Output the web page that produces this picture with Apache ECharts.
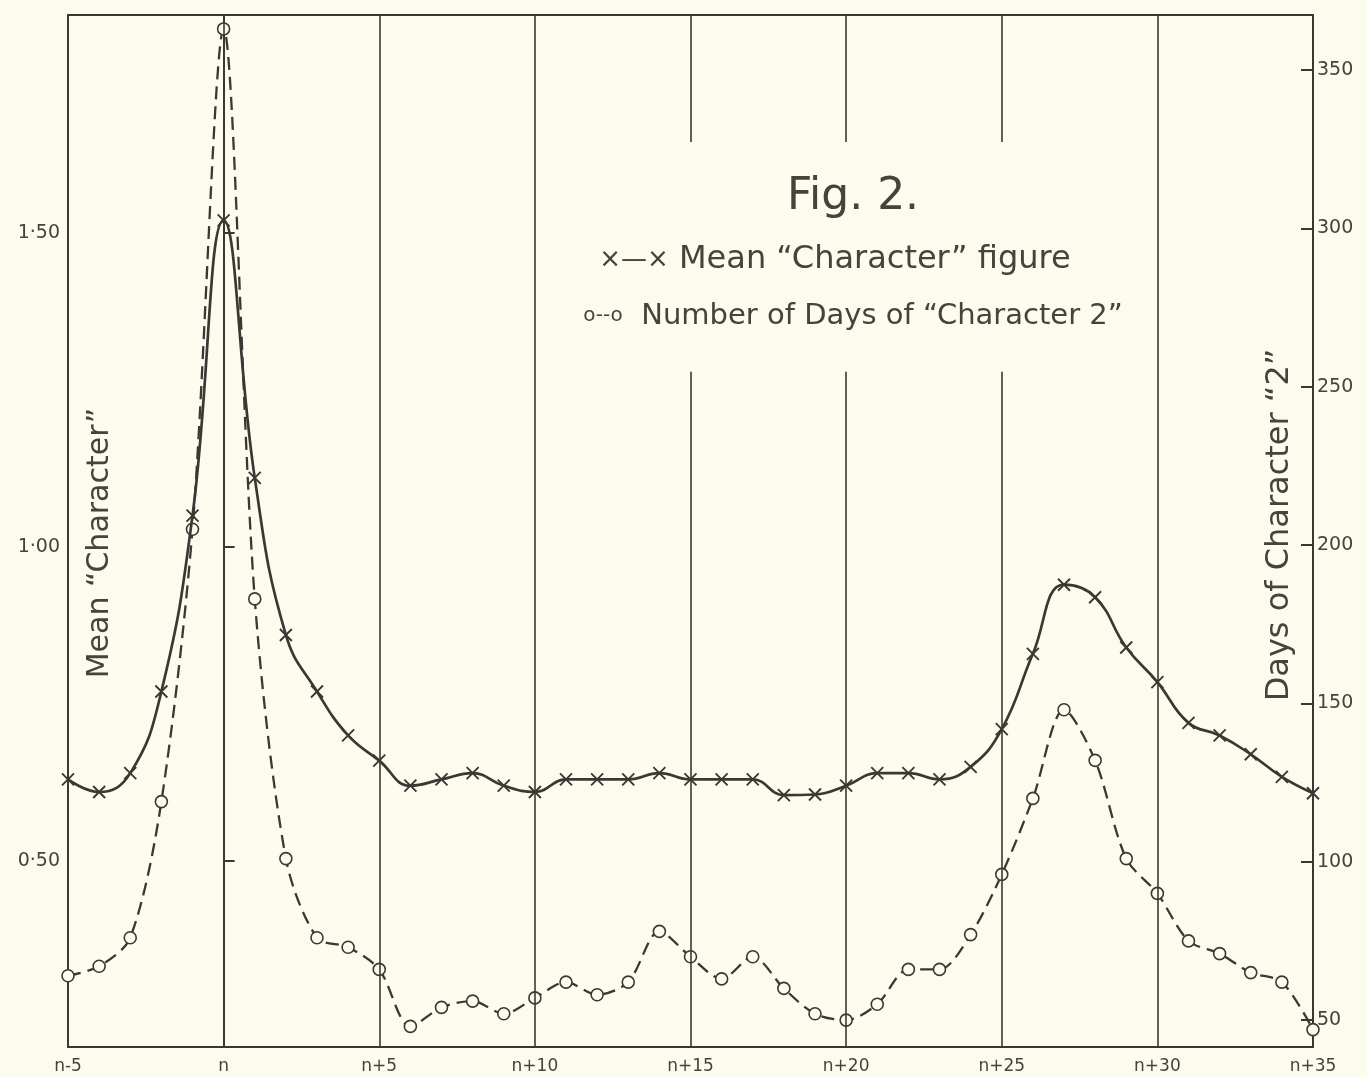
<!DOCTYPE html>
<html>
<head>
<meta charset="utf-8">
<script src="https://cdn.jsdelivr.net/npm/echarts@6/dist/echarts.min.js"></script>
<style>
html,body{margin:0;padding:0;background:#fcfcee;}
#chart{width:1367px;height:1077px;}
</style>
</head>
<body>
<div id="chart"></div>
<script>
// ---- data ----
const dayOffsets = [-5,-4,-3,-2,-1,0,1,2,3,4,5,6,7,8,9,10,11,12,13,14,15,16,17,18,19,20,21,22,23,24,25,26,27,28,29,30,31,32,33,34,35];
const meanCharacter = [0.63,0.61,0.64,0.77,1.05,1.52,1.11,0.86,0.77,0.70,0.66,0.62,0.63,0.64,0.62,0.61,0.63,0.63,0.63,0.64,0.63,0.63,0.63,0.605,0.606,0.62,0.64,0.64,0.63,0.65,0.71,0.83,0.94,0.92,0.84,0.785,0.72,0.70,0.67,0.634,0.608];
const daysCharacter2 = [64,67,76,119,205,363,183,101,76,73,66,48,54,56,52,57,62,58,62,78,70,63,70,60,52,50,55,66,66,77,96,120,148,132,101,90,75,71,65,62,47];
const xTickLabels = ['n-5','n','n+5','n+10','n+15','n+20','n+25','n+30','n+35'];
const leftTicks = [0.5, 1.0, 1.5];
const rightTicks = [50,100,150,200,250,300,350];
const fullGridLines = [0, 5, 10, 30];
const brokenGridLines = [15, 20, 25];
const seriesNames = ['Mean “Character” figure', 'Number of Days of “Character 2”'];

const INK = '#3b3833';
const TXT = '#46423c';
const BG = '#fcfcee';
const FONT = '"DejaVu Sans", "Noto Sans", sans-serif';

const leftMin = 0.204, leftMax = 1.847;
const rightMin = 41.5, rightMax = 367.4;
const gapLow = 1.279, gapHigh = 1.645;

const meanData = dayOffsets.map((d, i) => [d, meanCharacter[i]]);
const daysData = dayOffsets.map((d, i) => [d, daysCharacter2[i]]);

const markData = [];
fullGridLines.forEach(v => markData.push({xAxis: v}));
brokenGridLines.forEach(v => {
  markData.push([{coord: [v, leftMin]}, {coord: [v, gapLow]}]);
  markData.push([{coord: [v, gapHigh]}, {coord: [v, leftMax]}]);
});

const chart = echarts.init(document.getElementById('chart'), null, {renderer: 'canvas'});
chart.setOption({
  backgroundColor: BG,
  animation: false,
  grid: {left: 68, right: 54, top: 15, bottom: 30, show: true, borderColor: INK, borderWidth: 2, backgroundColor: 'transparent'},
  xAxis: {
    type: 'value', min: -5, max: 35, interval: 5,
    axisLine: {show: true, lineStyle: {color: INK, width: 2}},
    axisTick: {show: false},
    splitLine: {show: false},
    axisLabel: {
      color: TXT, fontFamily: FONT, fontSize: 17, margin: 11,
      formatter: v => xTickLabels[Math.round((v + 5) / 5)]
    }
  },
  yAxis: [
    {
      type: 'value', min: leftMin, max: leftMax, position: 'left',
      axisLine: {show: true, lineStyle: {color: INK, width: 2}},
      axisTick: {show: true, inside: true, length: 11, lineStyle: {color: INK, width: 2}, customValues: leftTicks},
      splitLine: {show: false},
      axisLabel: {
        color: TXT, fontFamily: FONT, fontSize: 19, margin: 8, customValues: leftTicks,
        formatter: v => v.toFixed(2).replace('.', '·')
      }
    },
    {
      type: 'value', min: rightMin, max: rightMax, position: 'right',
      axisLine: {show: true, lineStyle: {color: INK, width: 2}},
      axisTick: {show: true, inside: true, length: 12, lineStyle: {color: INK, width: 2}, customValues: rightTicks},
      splitLine: {show: false},
      axisLabel: {
        color: TXT, fontFamily: FONT, fontSize: 19, margin: 4, customValues: rightTicks,
        formatter: v => String(v)
      }
    }
  ],
  series: [
    {
      name: seriesNames[0], type: 'line', yAxisIndex: 0, data: meanData,
      smooth: 0.45,
      symbol: 'path://M0,0L10,10M10,0L0,10', symbolSize: 12, symbolKeepAspect: true,
      itemStyle: {color: 'transparent', borderColor: INK, borderWidth: 1.9},
      lineStyle: {color: INK, width: 2.7},
      z: 4,
      markLine: {
        silent: true, symbol: ['none', 'none'], label: {show: false},
        lineStyle: {color: INK, width: 1.6, type: 'solid'},
        emphasis: {disabled: true},
        data: markData
      }
    },
    {
      name: seriesNames[1], type: 'line', yAxisIndex: 1, data: daysData,
      smooth: 0.3,
      symbol: 'circle', symbolSize: 12,
      itemStyle: {color: BG, borderColor: INK, borderWidth: 1.6},
      lineStyle: {color: INK, width: 2.3, type: [13, 7]},
      z: 3
    }
  ],
  graphic: [
    {type: 'text', x: 853, y: 198, style: {text: 'Fig. 2.', font: '44px ' + FONT, fill: TXT, align: 'center', verticalAlign: 'middle'}},
    {type: 'text', x: 835, y: 260, style: {
      text: '{ic|×—×} ' + seriesNames[0], font: '32px ' + FONT, fill: TXT, align: 'center', verticalAlign: 'middle',
      rich: {ic: {font: '26px ' + FONT, fill: TXT}}
    }},
    {type: 'text', x: 853, y: 316, style: {
      text: '{ic|o--o}  ' + seriesNames[1], font: '29px ' + FONT, fill: TXT, align: 'center', verticalAlign: 'middle',
      rich: {ic: {font: '20px ' + FONT, fill: TXT}}
    }},
    {type: 'text', x: 100, y: 543, rotation: Math.PI / 2, style: {text: 'Mean “Character”', font: '30px ' + FONT, fill: TXT, align: 'center', verticalAlign: 'middle'}},
    {type: 'text', x: 1280, y: 525, rotation: Math.PI / 2, style: {text: 'Days of Character “2”', font: '32px ' + FONT, fill: TXT, align: 'center', verticalAlign: 'middle'}}
  ]
});
</script>
</body>
</html>
